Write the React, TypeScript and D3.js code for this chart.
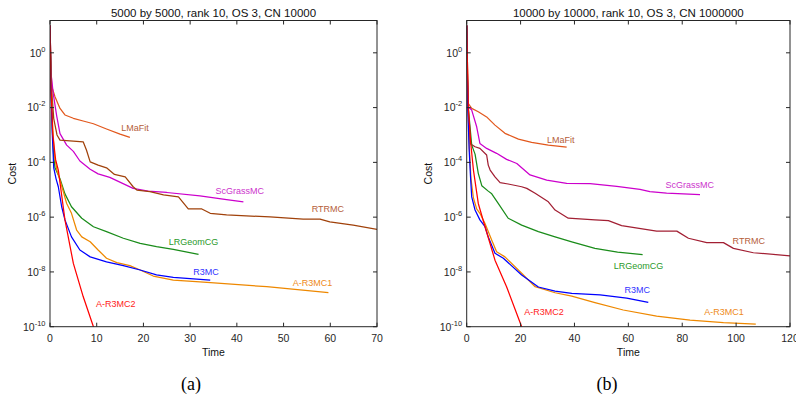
import React from "react";
import * as d3 from "d3";

// ---- data: [time, log10(cost)] ----
const aLMaFit = [[0,1.0],[0.2,-0.6],[0.4,-1.25],[1.07,-1.6],[2.14,-2.03],[3.2,-2.27],[5,-2.39],[7.1,-2.49],[9.3,-2.59],[12.1,-2.78],[15,-2.97],[17.1,-3.09]];
const aScGrassMC = [[0,1.0],[0.25,-0.8],[0.7,-1.5],[1.43,-2.3],[2.14,-2.95],[3.57,-3.37],[5,-3.6],[6.4,-3.95],[8.6,-4.25],[10.3,-4.42],[12.8,-4.55],[17.8,-4.95],[21,-5.05],[25,-5.1],[32.1,-5.22],[37.8,-5.36],[41.4,-5.44]];
const aRTRMC = [[0,1.0],[0.3,-1.2],[0.8,-2.4],[1.5,-3.0],[2.14,-3.19],[7.1,-3.25],[7.8,-3.55],[8.6,-3.98],[10.3,-4.1],[12.1,-4.2],[13.8,-4.44],[16.1,-4.53],[17.8,-4.89],[18.6,-5.01],[21.4,-5.07],[24.3,-5.19],[27.5,-5.26],[29.6,-5.7],[32.5,-5.7],[34.3,-5.86],[37.8,-5.92],[47.1,-5.99],[54.2,-6.07],[57.8,-6.07],[59.9,-6.17],[64.9,-6.29],[70.2,-6.45]];
const aLRGeomCG = [[0,1.0],[0.2,-1.0],[0.5,-2.8],[0.8,-3.8],[1.07,-4.2],[2.14,-4.6],[3.2,-5.15],[4.6,-5.62],[6.8,-6.04],[9.3,-6.35],[12.1,-6.53],[15.7,-6.77],[19.3,-6.96],[22.8,-7.08],[26.4,-7.18],[31.8,-7.36]];
const aR3MC = [[0,1.0],[0.2,-1.2],[0.5,-3.0],[0.8,-4.2],[1.3,-4.6],[1.78,-4.89],[2.5,-5.62],[3.2,-6.1],[4.6,-6.72],[6.4,-7.2],[8.6,-7.45],[12.1,-7.63],[15.7,-7.77],[19.3,-7.93],[22.8,-8.11],[26.4,-8.2],[34.3,-8.3]];
const aAR3MC1 = [[0,1.0],[0.2,-1.0],[0.6,-2.8],[1.0,-3.8],[1.5,-4.3],[2.14,-4.65],[3.57,-5.5],[4.6,-5.86],[5.7,-6.47],[6.8,-6.72],[8.6,-6.9],[10.3,-7.2],[12.1,-7.5],[14.3,-7.66],[17.1,-7.77],[19.3,-7.93],[22.1,-8.15],[26.4,-8.3],[32.1,-8.36],[46.4,-8.54],[59.6,-8.76]];
const aAR3MC2 = [[0,1.0],[0.2,-1.2],[0.6,-3.0],[1.2,-3.9],[1.78,-4.28],[3.2,-6.1],[5,-7.69],[7.1,-8.9],[9.3,-10.0],[9.6,-10.2]];

const bLMaFit = [[0,1.0],[0.3,-0.5],[0.6,-1.85],[1.86,-2.03],[4.3,-2.15],[7.4,-2.34],[10.5,-2.64],[14.2,-2.94],[19.2,-3.15],[24.1,-3.27],[30.3,-3.37],[37.1,-3.44]];
const bScGrassMC = [[0,1.0],[0.3,-1.0],[0.6,-1.97],[1.86,-2.09],[3.7,-2.7],[4.9,-3.31],[7.4,-3.49],[11.1,-3.67],[14.8,-3.89],[18.6,-4.04],[23.5,-4.46],[29.7,-4.65],[37.1,-4.77],[45.8,-4.78],[55.7,-4.88],[64.3,-4.99],[68,-5.07],[74.2,-5.12],[86.6,-5.18]];
const bRTRMC = [[0,1.0],[0.3,-1.2],[0.8,-2.6],[1.2,-3.31],[3.1,-3.43],[4.9,-3.49],[7.4,-3.73],[8.0,-4.1],[8.7,-4.28],[10.5,-4.53],[12.4,-4.74],[15.4,-4.79],[20.4,-4.89],[22.3,-4.95],[25.4,-5.13],[30.3,-5.44],[32.8,-5.74],[37.7,-6.04],[47.6,-6.1],[52.6,-6.13],[57.5,-6.31],[70.5,-6.51],[78,-6.51],[82.3,-6.77],[89.1,-6.93],[95.3,-6.93],[99,-7.14],[106.4,-7.3],[120,-7.41]];
const bLRGeomCG = [[0,1.0],[0.3,-1.0],[0.6,-2.03],[1.86,-3.37],[3.1,-3.7],[4.3,-4.4],[5.6,-4.85],[8,-5.05],[9.3,-5.15],[11.7,-5.5],[15.4,-6.04],[20.4,-6.29],[26.6,-6.53],[32.8,-6.72],[39,-6.9],[47.6,-7.14],[56,-7.28],[65.3,-7.37]];
const bR3MC = [[0,1.0],[0.4,-2.0],[0.9,-3.5],[1.4,-4.5],[1.86,-5.26],[3.1,-5.74],[4.9,-6.1],[6.8,-6.35],[8,-6.72],[10.5,-7.32],[13.6,-7.5],[20.4,-8.11],[26.6,-8.55],[32.8,-8.7],[39,-8.78],[49.5,-8.84],[59.4,-8.96],[67.4,-9.11]];
const bAR3MC1 = [[0,1.0],[0.5,-2.0],[1.0,-3.5],[1.6,-4.6],[2.5,-5.3],[3.7,-5.7],[4.9,-5.86],[6.8,-6.23],[9.3,-6.84],[11.1,-7.26],[14.2,-7.45],[20.4,-8.05],[25.4,-8.54],[32.8,-8.76],[39,-8.88],[47.6,-9.12],[58.1,-9.39],[70.5,-9.61],[82.9,-9.76],[95.3,-9.85],[107.3,-9.91]];
const bAR3MC2 = [[0,1.0],[0.6,-2.0],[1.5,-3.3],[2.5,-4.28],[4.3,-5.5],[6.8,-6.35],[10.5,-7.57],[14.8,-8.54],[20.4,-10.0],[21,-10.2]];

const seriesNames = ["LMaFit", "ScGrassMC", "RTRMC", "LRGeomCG", "A-R3MC1", "R3MC", "A-R3MC2"];
const lineColorsA = ["#e2581d", "#cc00cc", "#a0410a", "#1a8c1a", "#ee8800", "#0000ff", "#ff0000"];
const lineColorsB = ["#e2581d", "#cc00cc", "#a21f33", "#1a8c1a", "#ee8800", "#0000ff", "#ff0000"];
const labelColors = ["#b5603a", "#cc33cc", "#b5603a", "#2a9a2a", "#ee8a20", "#3333ff", "#ff2222"];
const seriesA = [aLMaFit, aScGrassMC, aRTRMC, aLRGeomCG, aAR3MC1, aR3MC, aAR3MC2];
const seriesB = [bLMaFit, bScGrassMC, bRTRMC, bLRGeomCG, bAR3MC1, bR3MC, bAR3MC2];
// label centre positions in data units [time, log10 cost]
const labelPosA = [[18.2, -2.74], [40.6, -5.05], [59.5, -5.72], [30.7, -6.9], [56.2, -8.39], [33.4, -7.99], [14.1, -9.17]];
const labelPosB = [[34.9, -3.19], [82.8, -4.83], [104.7, -6.86], [63.8, -7.78], [95.5, -9.45], [63.3, -8.66], [28.7, -9.45]];
const yTickExps = [0, -2, -4, -6, -8, -10];
const xTicksA = [0, 10, 20, 30, 40, 50, 60, 70];
const xTicksB = [0, 20, 40, 60, 80, 100, 120];
const titles = ["5000 by 5000, rank 10, OS 3, CN 10000", "10000 by 10000, rank 10, OS 3, CN 1000000"];

const FONT = "'Liberation Sans', Arial, Helvetica, sans-serif";
const AX = "#262626";

function Panel(props: any) {
  const { id, left, right, top, bottom, xMax, xTicks, series, colors, labelPos, title, caption } = props;
  const x = d3.scaleLinear().domain([0, xMax]).range([left, right]);
  const y = d3.scaleLog().domain([1e-10, Math.pow(10, 1.18)]).range([bottom, top]);
  const line = d3
    .line<number[]>()
    .x((d) => x(d[0]))
    .y((d) => y(Math.pow(10, d[1])));
  const tl = 4;
  const cx = (left + right) / 2;
  return (
    <g>
      <defs>
        <clipPath id={id}>
          <rect x={left} y={top} width={right - left} height={bottom - top} />
        </clipPath>
      </defs>
      <g clipPath={`url(#${id})`}>
        {series.map((s: number[][], i: number) => (
          <path key={i} d={line(s) || ""} fill="none" stroke={colors[i]} strokeWidth={1.25} strokeLinejoin="round" />
        ))}
      </g>
      {series.map((_s: any, i: number) => (
        <text key={i} x={x(labelPos[i][0])} y={y(Math.pow(10, labelPos[i][1]))} fontFamily={FONT} fontSize={9}
          fill={labelColors[i]} textAnchor="middle" dominantBaseline="central">
          {seriesNames[i]}
        </text>
      ))}
      <rect x={left} y={top} width={right - left} height={bottom - top} fill="none" stroke={AX} strokeWidth={1} />
      {xTicks.map((t: number) => (
        <g key={t}>
          <line x1={x(t)} x2={x(t)} y1={bottom} y2={bottom - tl} stroke={AX} />
          <line x1={x(t)} x2={x(t)} y1={top} y2={top + tl} stroke={AX} />
          <text x={x(t)} y={341.5} fontFamily={FONT} fontSize={10.5} fill={AX} textAnchor="middle">{t}</text>
        </g>
      ))}
      {yTickExps.map((e: number) => {
        const yy = y(Math.pow(10, e));
        return (
          <g key={e}>
            <line x1={left} x2={left + tl} y1={yy} y2={yy} stroke={AX} />
            <line x1={right} x2={right - tl} y1={yy} y2={yy} stroke={AX} />
            <text x={left - 4.5} y={yy + 3.8} fontFamily={FONT} fontSize={10.5} fill={AX} textAnchor="end">
              10<tspan fontSize={7.5} dy={-5}>{e}</tspan>
            </text>
          </g>
        );
      })}
      <text x={cx} y={17} fontFamily={FONT} fontSize={11.5} fill="#111" textAnchor="middle">{title}</text>
      <text x={cx} y={356} fontFamily={FONT} fontSize={10.5} fill="#111" textAnchor="middle">Time</text>
      <text transform={`translate(${left - 34.5},${(top + bottom) / 2}) rotate(-90)`} fontFamily={FONT} fontSize={10.5}
        fill="#111" textAnchor="middle">Cost</text>
      <text x={caption.x} y={390} fontFamily="'Liberation Serif', 'Times New Roman', serif" fontSize={18} fill="#000"
        textAnchor="middle">{caption.t}</text>
    </g>
  );
}

export default function App() {
  return (
    <svg width={796} height={398} style={{ position: "absolute", left: 0, top: 0, background: "#fff" }}>
      <rect width={796} height={398} fill="#fff" />
      <Panel id="clipA" left={50} right={377} top={20.5} bottom={326.7} xMax={70} xTicks={xTicksA}
        series={seriesA} colors={lineColorsA} labelPos={labelPosA} title={titles[0]} caption={{ x: 191, t: "(a)" }} />
      <Panel id="clipB" left={466.7} right={790} top={20.5} bottom={326.7} xMax={120} xTicks={xTicksB}
        series={seriesB} colors={lineColorsB} labelPos={labelPosB} title={titles[1]} caption={{ x: 607, t: "(b)" }} />
    </svg>
  );
}
